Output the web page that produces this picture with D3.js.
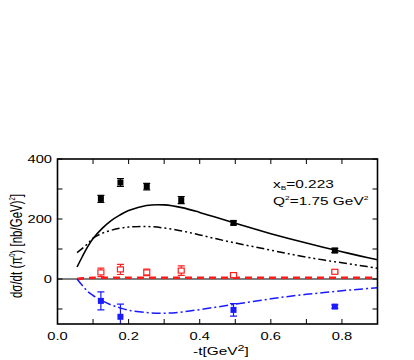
<!DOCTYPE html>
<html>
<head>
<meta charset="utf-8">
<script src="https://cdn.jsdelivr.net/npm/d3@7"></script>
<style>
  body { margin: 0; background: #fff; }
  svg text { font-family: "Liberation Sans", Arial, sans-serif; fill: #000; }
</style>
</head>
<body>
<svg id="svg" width="414" height="360"></svg>
<script>

// measured -t values of the data points
var tPoints = [0.122, 0.177, 0.251, 0.348, 0.495, 0.78];

// black squares
var sigBlack = [267, 322, 308, 263, 187, 95];
var errBlack = [12, 13, 11, 12, 7, 7];

// red open squares
var sigRed = [22, 32, 22, 28, 13, 24];
var errRed = [14, 17, 11, 16, 5, 3];

// blue squares
var tBlue = [0.122, 0.177, 0.495, 0.78];
var sigBlue = [-73, -126, -103, -92];
var errBlue = [30, 42, 21, 6];

// model curves
var curveT = [0.055, 0.07, 0.085, 0.1, 0.125, 0.15, 0.175, 0.2, 0.25, 0.3, 0.35, 0.4, 0.45, 0.5, 0.55, 0.6, 0.65, 0.7, 0.75, 0.8, 0.85, 0.9];
var curveSolid = [40, 75, 108, 135, 168, 194, 213, 228, 245, 247, 238, 222, 204, 186, 168, 151, 135, 120, 105, 91, 77, 64];
var curveDashDot = [88, 102, 118, 136, 152, 162, 169, 173, 175, 170, 160, 147, 133, 120, 108, 96, 84, 73, 63, 54, 45, 36];
var curveRed = [0, 2, 3, 4, 4, 4, 4, 4, 4, 4, 4, 4, 4, 4, 4, 4, 4, 4, 4, 4, 4, 4];
var curveBlue = [0, -22, -42, -55, -72, -86, -96, -104, -112, -114, -110, -102, -93, -84, -75, -66, -58, -51, -45, -39, -34, -29];

var xTicks = [0, 0.2, 0.4, 0.6, 0.8];
var xMinor = [0.1, 0.3, 0.5, 0.7];
var yTicks = [0, 200, 400];
var yMinor = [-100, 100, 300];

// picture is a bit wider than tall, so text is stretched sideways
var stretch = 1.4;

var svg = d3.select("#svg");

var plotLeft = 57.5, plotRight = 377.5, plotTop = 159, plotBottom = 324;

var x = d3.scaleLinear().domain([0, 0.9]).range([plotLeft, plotRight]);
var y = d3.scaleLinear().domain([-150, 400]).range([plotBottom, plotTop]);

var tickLen = 5;

////////////////////////////
// ticks (inward, all four sides)

var ticks = svg.append("g").attr("stroke", "#000").attr("stroke-width", 1);

xTicks.concat(xMinor).forEach(function(t){
	ticks.append("line").attr("x1", x(t)).attr("x2", x(t)).attr("y1", plotBottom).attr("y2", plotBottom - tickLen);
	ticks.append("line").attr("x1", x(t)).attr("x2", x(t)).attr("y1", plotTop).attr("y2", plotTop + tickLen);
});

yTicks.concat(yMinor).forEach(function(v){
	ticks.append("line").attr("x1", plotLeft).attr("x2", plotLeft + tickLen).attr("y1", y(v)).attr("y2", y(v));
	ticks.append("line").attr("x1", plotRight).attr("x2", plotRight - tickLen).attr("y1", y(v)).attr("y2", y(v));
});

// zero line
svg.append("line")
	.attr("x1", plotLeft).attr("x2", plotRight)
	.attr("y1", y(0)).attr("y2", y(0))
	.attr("stroke", "#000").attr("stroke-width", 1);

////////////////////////////
// tick labels

xTicks.forEach(function(t){
	svg.append("text")
		.attr("transform", "translate(" + x(t) + ",340) scale(" + stretch + ",1)")
		.attr("text-anchor", "middle")
		.attr("font-size", 10.5)
		.text(d3.format(".1f")(t));
});

yTicks.forEach(function(v){
	svg.append("text")
		.attr("transform", "translate(52," + (y(v) + 3.8) + ") scale(" + stretch + ",1)")
		.attr("text-anchor", "end")
		.attr("font-size", 10.5)
		.text(v);
});

////////////////////////////
// curves

var clipId = "plotclip";
svg.append("clipPath").attr("id", clipId)
	.append("rect").attr("x", plotLeft).attr("y", plotTop)
	.attr("width", plotRight - plotLeft).attr("height", plotBottom - plotTop);

var line = d3.line()
	.x(function(d){ return x(d[0]); })
	.y(function(d){ return y(d[1]); })
	.curve(d3.curveCatmullRom.alpha(0.5));

function zipCurve(vals) {
	return curveT.map(function(t, i){ return [t, vals[i]]; });
}

var curves = svg.append("g").attr("clip-path", "url(#" + clipId + ")").attr("fill", "none");

curves.append("path").attr("d", line(zipCurve(curveRed)))
	.attr("stroke", "#ff1a1a").attr("stroke-width", 2.6).attr("stroke-dasharray", "7,5");

curves.append("path").attr("d", line(zipCurve(curveDashDot)))
	.attr("stroke", "#000").attr("stroke-width", 1.5).attr("stroke-dasharray", "8,3,2,3,2,3");

curves.append("path").attr("d", line(zipCurve(curveSolid)))
	.attr("stroke", "#000").attr("stroke-width", 1.6);

curves.append("path").attr("d", line(zipCurve(curveBlue)))
	.attr("stroke", "#1a1aff").attr("stroke-width", 1.5).attr("stroke-dasharray", "9,3,2,3");

////////////////////////////
// data points with error bars

function drawPoints(ts, vals, errs, color, filled) {
	var g = svg.append("g").attr("clip-path", "url(#" + clipId + ")");
	ts.forEach(function(t, i){
		var cx = x(t), cy = y(vals[i]);
		var y1 = y(vals[i] + errs[i]), y2 = y(vals[i] - errs[i]);
		g.append("line").attr("x1", cx).attr("x2", cx).attr("y1", y1).attr("y2", y2)
			.attr("stroke", color).attr("stroke-width", 1.2);
		[y1, y2].forEach(function(yy){
			g.append("line").attr("x1", cx - 3.5).attr("x2", cx + 3.5).attr("y1", yy).attr("y2", yy)
				.attr("stroke", color).attr("stroke-width", 1.2);
		});
		if (filled) {
			g.append("rect").attr("x", cx - 3).attr("y", cy - 3).attr("width", 6).attr("height", 6)
				.attr("fill", color);
		} else {
			g.append("rect").attr("x", cx - 3).attr("y", cy - 2.5).attr("width", 6).attr("height", 5)
				.attr("fill", "#fff").attr("stroke", color).attr("stroke-width", 1.2);
		}
	});
}

drawPoints(tPoints, sigBlack, errBlack, "#000", true);
drawPoints(tPoints, sigRed, errRed, "#ff2020", false);
drawPoints(tBlue, sigBlue, errBlue, "#1a1aff", true);

////////////////////////////
// frame

svg.append("rect")
	.attr("x", plotLeft).attr("y", plotTop)
	.attr("width", plotRight - plotLeft).attr("height", plotBottom - plotTop)
	.attr("fill", "none").attr("stroke", "#000").attr("stroke-width", 1.6);

////////////////////////////
// labels

var ann1 = svg.append("text")
	.attr("transform", "translate(273,188) scale(" + stretch + ",1)")
	.attr("font-size", 11);
ann1.append("tspan").text("x");
ann1.append("tspan").attr("font-size", 6).attr("dy", 2).text("B");
ann1.append("tspan").attr("dy", -2).text("=0.223");

var ann2 = svg.append("text")
	.attr("transform", "translate(273,205) scale(" + stretch + ",1)")
	.attr("font-size", 11);
ann2.append("tspan").text("Q");
ann2.append("tspan").attr("font-size", 6).attr("dy", -5).text("2");
ann2.append("tspan").attr("dy", 5).text("=1.75 GeV");
ann2.append("tspan").attr("font-size", 6).attr("dy", -5).text("2");

var xl = svg.append("text")
	.attr("transform", "translate(221,355) scale(" + stretch + ",1)")
	.attr("text-anchor", "middle")
	.attr("font-size", 11);
xl.append("tspan").text("-t[GeV");
xl.append("tspan").attr("font-size", 9).attr("dy", -4).text("2");
xl.append("tspan").attr("dy", 4).text("]");

var yl = svg.append("text")
	.attr("transform", "translate(22,246) scale(" + stretch + ",1) rotate(-90)")
	.attr("text-anchor", "middle")
	.attr("font-size", 11.5);
yl.append("tspan").text("d\u03c3/dt (\u03c0");
yl.append("tspan").attr("font-size", 6).attr("dy", -5).text("0");
yl.append("tspan").attr("dy", 5).text(")  [nb/GeV)");
yl.append("tspan").attr("font-size", 6).attr("dy", -5).text("2");
yl.append("tspan").attr("dy", 5).text("]");

</script>
</body>
</html>
